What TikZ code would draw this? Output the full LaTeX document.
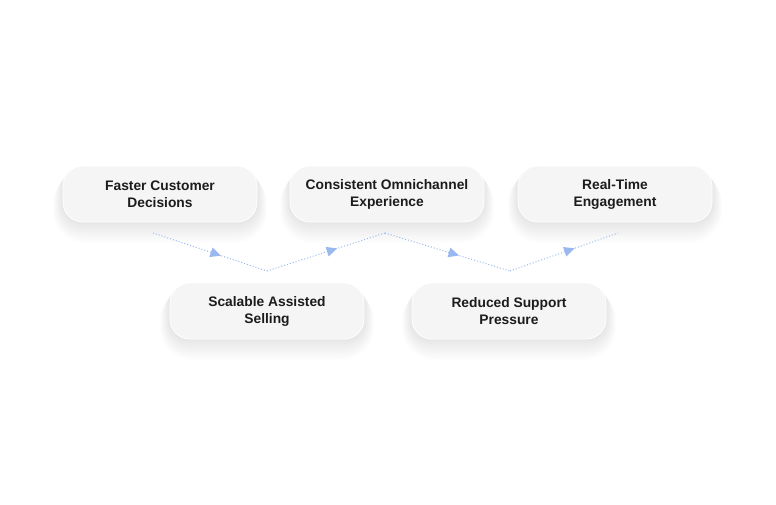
\documentclass[tikz,border=0pt]{standalone}
\usepackage{fontspec}
\setmainfont{Liberation Sans}
\usepackage{xcolor}
\usetikzlibrary{arrows.meta, decorations.markings, backgrounds, calc}
\definecolor{pillfill}{HTML}{F5F5F5}
\definecolor{inkdark}{HTML}{1C1C1C}
\definecolor{flowblue}{HTML}{9AB8F0}

\begin{document}
\begin{tikzpicture}[x=1pt, y=-1pt,
        pill/.style={rounded corners=20pt, minimum width=194pt,
                    minimum height=56pt, font=\bfseries\fontsize{13.8}{17}\selectfont,
                    align=center, text=inkdark, fill=pillfill, draw=white, line width=0.8pt},
        flow/.style={flowblue, dotted, line width=1pt,
                    postaction={decorate, decoration={markings,
                      mark=at position 0.55 with {\fill[flowblue] (5.5pt,0) -- (-5pt,-5pt) -- (-5pt,5pt) -- cycle;}}}}
    ]
        \useasboundingbox (0,0) rectangle (776,504);
        \node[pill] (fast)    at (160,194) {Faster Customer\\Decisions};
        \node[pill] (omni)    at (387,194) {Consistent Omnichannel\\Experience};
        \node[pill] (rt)      at (615,194) {Real-Time\\Engagement};
        \node[pill] (scale)   at (267,311) {Scalable Assisted\\Selling};
        \node[pill] (support) at (509,311) {Reduced Support\\Pressure};
        % soft shadows under the pills
        \begin{scope}[on background layer]
            \fill[white] (0,0) rectangle (776,504);
            \foreach \n in {fast, omni, rt, scale, support}
                \foreach \i in {1,...,12}
                    \fill[black, opacity=0.008, rounded corners=20pt+\i pt]
                        ($(\n.north west)+(-0.8*\i,0.5*\i)$) rectangle ($(\n.south east)+(0.8*\i,1.7*\i)$);
        \end{scope}
        % zigzag path between the rows
        \coordinate (z1) at (153,233);
        \coordinate (z2) at (267,271);
        \coordinate (z3) at (385,233);
        \coordinate (z4) at (510,271);
        \coordinate (z5) at (618,233);
        \draw[flow] (z1) -- (z2);
        \draw[flow] (z2) -- (z3);
        \draw[flow] (z3) -- (z4);
        \draw[flow] (z4) -- (z5);
    \end{tikzpicture}
\end{document}
